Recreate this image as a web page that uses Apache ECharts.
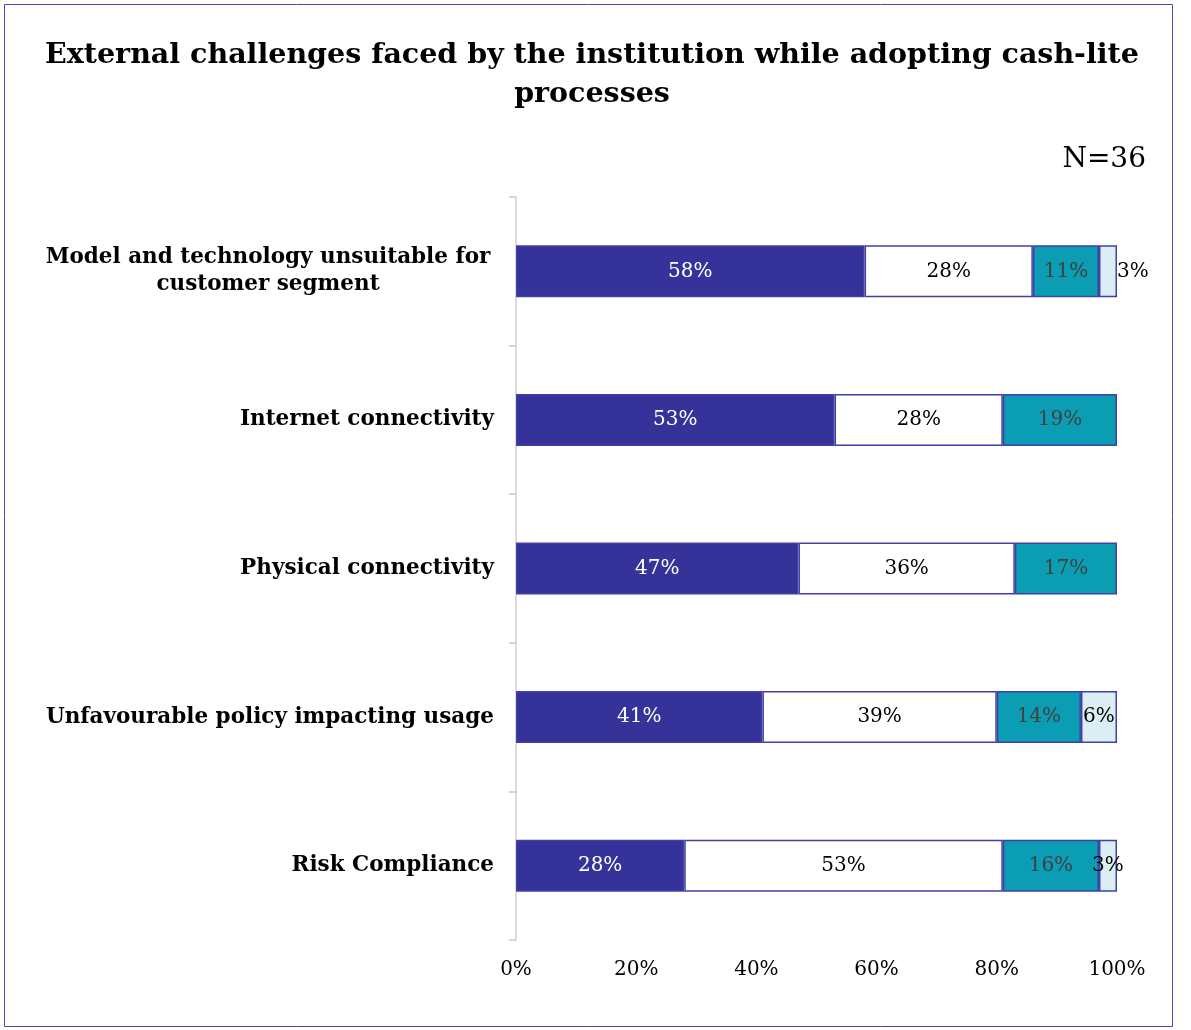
<!DOCTYPE html>
<html><head><meta charset="utf-8">
<script src="https://cdn.jsdelivr.net/npm/echarts@6/dist/echarts.min.js"></script>
<style>html,body{margin:0;padding:0;background:#fff}#c{width:1191px;height:1030px}</style>
</head><body><div id="c"></div>
<script>
const categories = ['Model and technology unsuitable for\ncustomer segment','Internet connectivity','Physical connectivity','Unfavourable policy impacting usage','Risk Compliance'];
const seriesA = [58, 53, 47, 41, 28];
const seriesB = [28, 28, 36, 39, 53];
const seriesC = [11, 19, 17, 14, 16];
const seriesD = [3, null, null, 6, 3];
const xTicks = [0, 20, 40, 60, 80, 100];

const FONT = 'DejaVu Serif';
const border = '#4040A8';
const chart = echarts.init(document.getElementById('c'));
function mk(name, data, color, labelColor, outsideIdx){
  const rev = data.slice().reverse();
  const n = rev.length;
  const d = rev.map((v,i) => (outsideIdx!=null && (n-1-i)===outsideIdx) ? {value:v, label:{position:'right', distance:0}} : v);
  return {name, type:'bar', stack:'t', data:d, barWidth:52,
    itemStyle:{color, borderColor:border, borderWidth:1.5},
    label:{show:true, position:'inside', formatter: p => p.value==null?'':p.value+'%', color:labelColor, fontFamily:FONT, fontSize:20},
    emphasis:{disabled:true}};
}
const cats = categories.slice().reverse();
chart.setOption({
  animation:false,
  title:{text:'External challenges faced by the institution while adopting cash-lite\nprocesses', left:587, textAlign:'center', top:31,
    textStyle:{fontFamily:FONT, fontWeight:'bold', fontSize:28.5, color:'#000', lineHeight:39}},
  graphic:[
    {type:'rect', shape:{x:4.5,y:4.5,width:1168,height:1022}, style:{fill:null, stroke:'#4a4aa8', lineWidth:1}},
    {type:'text', right:1191-1146, top:146, style:{text:'N=36', font:'28px "DejaVu Serif"', fill:'#000'}}
  ],
  grid:{left:516, right:1191-1117, top:197, bottom:90},
  xAxis:{type:'value', min:0, max:100, interval:20, axisLine:{show:false}, axisTick:{show:false}, splitLine:{show:false},
    axisLabel:{formatter: v => xTicks.includes(v)? v+'%':'', fontFamily:FONT, fontSize:20, color:'#000', margin:20}},
  yAxis:{type:'category', data:cats, axisLine:{lineStyle:{color:'#D0D0D0', width:1.5}}, axisTick:{show:true, lineStyle:{color:'#C8C8C8', width:1.5}, length:7},
    axisLabel:{fontFamily:FONT, fontWeight:'bold', fontSize:21.5, color:'#000', margin:22, lineHeight:27,
      formatter: v => v.includes('\n') ? v.split('\n').map(s=>'{c|'+s+'}').join('\n') : v,
      rich:{c:{width:452, align:'center', fontFamily:FONT, fontWeight:'bold', fontSize:21.5, color:'#000', lineHeight:27}}}},
  series:[
    mk('A', seriesA, '#35339A', '#fff'),
    mk('B', seriesB, '#ffffff', '#000'),
    mk('C', seriesC, '#0A9DB3', '#404040'),
    mk('D', seriesD, '#DAEEF3', '#000', 0)
  ]
});
</script></body></html>
